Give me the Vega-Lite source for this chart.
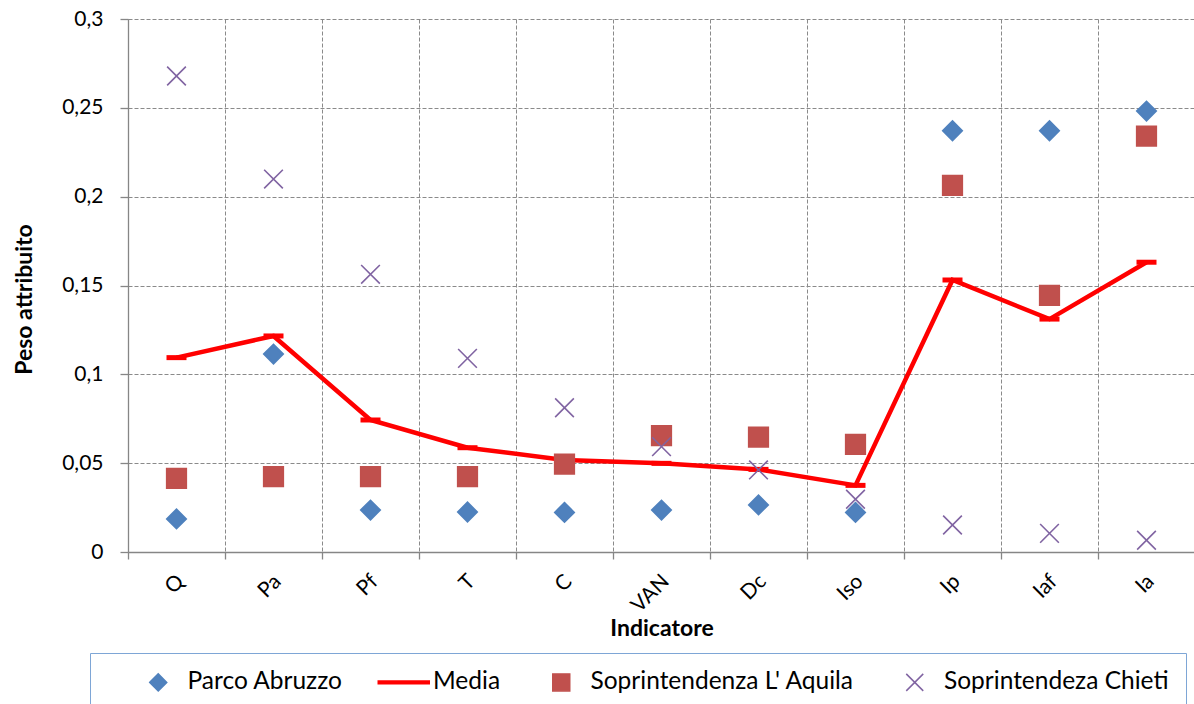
{
  "$schema": "https://vega.github.io/schema/vega-lite/v6.json",
  "width": 1067,
  "height": 533,
  "autosize": {"type": "none"},
  "padding": {"left": 128, "top": 19, "right": 0, "bottom": 152},
  "background": "white",
  "config": {
    "view": {"stroke": null},
    "font": "Lato",
    "legend": {
      "title": null,
      "orient": "none",
      "direction": "horizontal",
      "legendX": -38,
      "legendY": 634,
      "padding": 17,
      "strokeColor": "#7EA6D6",
      "symbolSize": 289,
      "symbolStrokeWidth": 1.5,
      "symbolOpacity": 1,
      "symbolOffset": 39,
      "labelOffset": 17,
      "columnPadding": 9.5,
      "labelLimit": 400,
      "labelFont": "Lato",
      "labelFontSize": 24.5,
      "labelColor": "#000000"
    }
  },
  "data": {
    "values": [
      {"indicatore": "Q", "serie": "Parco Abruzzo", "peso": 0.0186},
      {"indicatore": "Pa", "serie": "Parco Abruzzo", "peso": 0.1114},
      {"indicatore": "Pf", "serie": "Parco Abruzzo", "peso": 0.0236},
      {"indicatore": "T", "serie": "Parco Abruzzo", "peso": 0.0225},
      {"indicatore": "C", "serie": "Parco Abruzzo", "peso": 0.0223},
      {"indicatore": "VAN", "serie": "Parco Abruzzo", "peso": 0.0236},
      {"indicatore": "Dc", "serie": "Parco Abruzzo", "peso": 0.0265},
      {"indicatore": "Iso", "serie": "Parco Abruzzo", "peso": 0.0223},
      {"indicatore": "Ip", "serie": "Parco Abruzzo", "peso": 0.2371},
      {"indicatore": "Iaf", "serie": "Parco Abruzzo", "peso": 0.2371},
      {"indicatore": "Ia", "serie": "Parco Abruzzo", "peso": 0.2482},

      {"indicatore": "Q", "serie": "Media", "peso": 0.1094},
      {"indicatore": "Pa", "serie": "Media", "peso": 0.1216},
      {"indicatore": "Pf", "serie": "Media", "peso": 0.0743},
      {"indicatore": "T", "serie": "Media", "peso": 0.0587},
      {"indicatore": "C", "serie": "Media", "peso": 0.0518},
      {"indicatore": "VAN", "serie": "Media", "peso": 0.0499},
      {"indicatore": "Dc", "serie": "Media", "peso": 0.0465},
      {"indicatore": "Iso", "serie": "Media", "peso": 0.0375},
      {"indicatore": "Ip", "serie": "Media", "peso": 0.1531},
      {"indicatore": "Iaf", "serie": "Media", "peso": 0.1311},
      {"indicatore": "Ia", "serie": "Media", "peso": 0.1631},

      {"indicatore": "Q", "serie": "Soprintendenza L' Aquila", "peso": 0.0415},
      {"indicatore": "Pa", "serie": "Soprintendenza L' Aquila", "peso": 0.0424},
      {"indicatore": "Pf", "serie": "Soprintendenza L' Aquila", "peso": 0.0424},
      {"indicatore": "T", "serie": "Soprintendenza L' Aquila", "peso": 0.0424},
      {"indicatore": "C", "serie": "Soprintendenza L' Aquila", "peso": 0.0495},
      {"indicatore": "VAN", "serie": "Soprintendenza L' Aquila", "peso": 0.0655},
      {"indicatore": "Dc", "serie": "Soprintendenza L' Aquila", "peso": 0.0646},
      {"indicatore": "Iso", "serie": "Soprintendenza L' Aquila", "peso": 0.0606},
      {"indicatore": "Ip", "serie": "Soprintendenza L' Aquila", "peso": 0.2064},
      {"indicatore": "Iaf", "serie": "Soprintendenza L' Aquila", "peso": 0.1445},
      {"indicatore": "Ia", "serie": "Soprintendenza L' Aquila", "peso": 0.2341},

      {"indicatore": "Q", "serie": "Soprintendeza Chieti", "peso": 0.2679},
      {"indicatore": "Pa", "serie": "Soprintendeza Chieti", "peso": 0.2099},
      {"indicatore": "Pf", "serie": "Soprintendeza Chieti", "peso": 0.1563},
      {"indicatore": "T", "serie": "Soprintendeza Chieti", "peso": 0.109},
      {"indicatore": "C", "serie": "Soprintendeza Chieti", "peso": 0.0812},
      {"indicatore": "VAN", "serie": "Soprintendeza Chieti", "peso": 0.0593},
      {"indicatore": "Dc", "serie": "Soprintendeza Chieti", "peso": 0.0462},
      {"indicatore": "Iso", "serie": "Soprintendeza Chieti", "peso": 0.0297},
      {"indicatore": "Ip", "serie": "Soprintendeza Chieti", "peso": 0.0152},
      {"indicatore": "Iaf", "serie": "Soprintendeza Chieti", "peso": 0.0105},
      {"indicatore": "Ia", "serie": "Soprintendeza Chieti", "peso": 0.0066}
    ]
  },
  "encoding": {
    "x": {
      "field": "indicatore",
      "type": "nominal",
      "sort": ["Q", "Pa", "Pf", "T", "C", "VAN", "Dc", "Iso", "Ip", "Iaf", "Ia"],
      "scale": {"type": "band", "paddingInner": 0, "paddingOuter": 0},
      "axis": {
        "title": "Indicatore",
        "titleFont": "Lato",
        "titleFontSize": 23,
        "titleFontWeight": "bold",
        "titleColor": "#000000",
        "titleY": 83,
        "titleBaseline": "alphabetic",
        "tickBand": "extent",
        "grid": true,
        "gridColor": "#8a8a8a",
        "gridDash": [4, 2],
        "gridWidth": 1,
        "domainColor": "#868686",
        "domainWidth": 1.3,
        "tickColor": "#868686",
        "tickWidth": 1.3,
        "tickSize": 7,
        "labelAngle": -45,
        "labelAlign": "right",
        "labelBaseline": "middle",
        "labelPadding": 19,
        "labelOffset": 4,
        "labelFont": "Lato",
        "labelFontSize": 21,
        "labelColor": "#000000"
      }
    },
    "y": {
      "field": "peso",
      "type": "quantitative",
      "scale": {"domain": [0, 0.3], "nice": false, "zero": true},
      "axis": {
        "title": "Peso attribuito",
        "titleFont": "Lato",
        "titleFontSize": 23,
        "titleFontWeight": "bold",
        "titleColor": "#000000",
        "titleAngle": -90,
        "titleX": -97,
        "titleY": 280,
        "titleAlign": "center",
        "titleBaseline": "alphabetic",
        "values": [0, 0.05, 0.1, 0.15, 0.2, 0.25, 0.3],
        "labelExpr": "replace(format(datum.value, '.2~f'), '.', ',')",
        "grid": true,
        "gridColor": "#8a8a8a",
        "gridDash": [4, 2],
        "gridWidth": 1,
        "domainColor": "#868686",
        "domainWidth": 1.3,
        "tickColor": "#868686",
        "tickWidth": 1.3,
        "tickSize": 8,
        "labelPadding": 17,
        "labelFont": "Lato",
        "labelFontSize": 21,
        "labelColor": "#000000"
      }
    }
  },
  "layer": [
    {
      "transform": [{"filter": "datum.serie === 'Parco Abruzzo'"}],
      "mark": {"type": "point", "filled": true, "size": 360, "opacity": 1},
      "encoding": {
        "color": {
          "field": "serie",
          "type": "nominal",
          "scale": {
            "domain": ["Parco Abruzzo", "Media", "Soprintendenza L' Aquila", "Soprintendeza Chieti"],
            "range": ["#4F81BD", "#FF0000", "#C0504D", "#8064A2"]
          },
          "legend": {"encode": {"legend": {"width": {"value": 1200}}}}
        },
        "stroke": {
          "field": "serie",
          "type": "nominal",
          "scale": {
            "domain": ["Parco Abruzzo", "Media", "Soprintendenza L' Aquila", "Soprintendeza Chieti"],
            "range": ["#4F81BD", "#FF0000", "#C0504D", "#8064A2"]
          },
          "legend": {"encode": {"legend": {"width": {"value": 1200}}}}
        },
        "shape": {
          "field": "serie",
          "type": "nominal",
          "scale": {
            "domain": ["Parco Abruzzo", "Media", "Soprintendenza L' Aquila", "Soprintendeza Chieti"],
            "range": ["diamond", "M-3,-0.15H3V0.15H-3Z", "square", "M-1,-1L1,1M-1,1L1,-1"]
          },
          "legend": {"encode": {"legend": {"width": {"value": 1200}}}}
        }
      }
    },
    {
      "transform": [{"filter": "datum.serie === 'Media'"}],
      "mark": {"type": "line", "color": "#FF0000", "strokeWidth": 4.5, "opacity": 1}
    },
    {
      "transform": [{"filter": "datum.serie === 'Media'"}],
      "mark": {"type": "point", "shape": "stroke", "filled": false, "color": "#FF0000", "size": 400, "strokeWidth": 5, "opacity": 1}
    },
    {
      "transform": [{"filter": "indexof(datum.serie, 'Aquila') >= 0"}],
      "mark": {"type": "point", "filled": true, "size": 370, "opacity": 1},
      "encoding": {
        "color": {"field": "serie", "type": "nominal"},
        "stroke": {"field": "serie", "type": "nominal"},
        "shape": {"field": "serie", "type": "nominal"}
      }
    },
    {
      "transform": [{"filter": "indexof(datum.serie, 'Chieti') >= 0"}],
      "mark": {"type": "point", "shape": "M-1,-1L1,1M-1,1L1,-1", "filled": false, "color": "#8064A2", "size": 350, "strokeWidth": 1.6, "opacity": 1}
    }
  ]
}
